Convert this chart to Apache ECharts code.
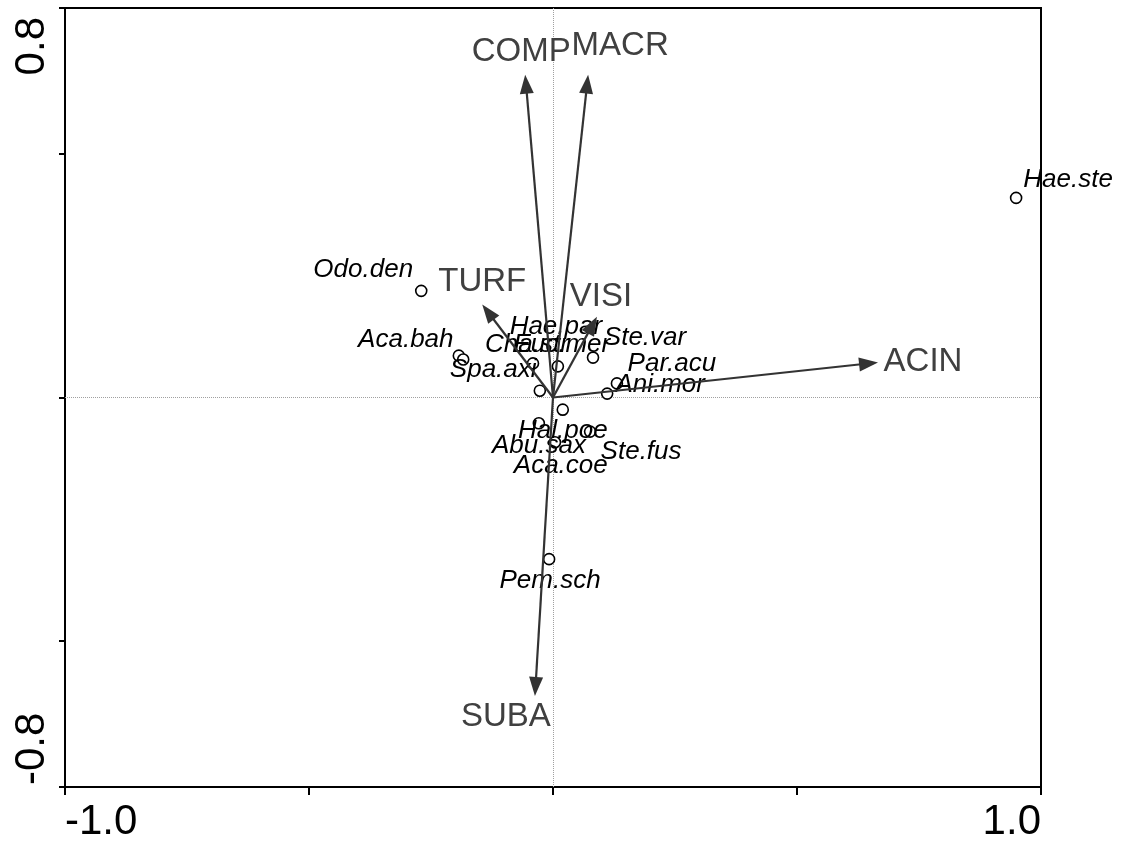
<!DOCTYPE html>
<html>
<head>
<meta charset="utf-8">
<title>CCA biplot</title>
<script src="https://cdn.jsdelivr.net/npm/echarts@6/dist/echarts.min.js"></script>
<style>
  html, body { margin: 0; padding: 0; background: #fff; }
  #chart { width: 1123px; height: 843px; }
</style>
</head>
<body>
<div id="chart"></div>
<script>
// Species scores (axis 1, axis 2)
const speciesNames = ['Hae.ste', 'Odo.den', 'Aca.bah', 'Spa.axi', 'Hae.par', 'Cha.str', 'Euc.mer',
  'Ste.var', 'Par.acu', 'Ani.mor', 'Aca.coe', 'Hal.poe', 'Ste.fus', 'Abu.sax', 'Pem.sch'];
const speciesX = [0.949, -0.270, -0.193, -0.184, 0.010, -0.041, -0.027,
  0.082, 0.131, 0.111, 0.020, -0.029, 0.076, 0.004, -0.008];
const speciesY = [0.410, 0.219, 0.086, 0.078, 0.064, 0.070, 0.014,
  0.082, 0.029, 0.008, -0.025, -0.053, -0.070, -0.092, -0.332];

// Environmental variable biplot scores (arrow tips)
const envNames = ['COMP', 'MACR', 'TURF', 'VISI', 'ACIN', 'SUBA'];
const envX = [-0.057, 0.072, -0.145, 0.090, 0.666, -0.037];
const envY = [0.663, 0.663, 0.191, 0.166, 0.072, -0.613];

// Axis ticks and labelled extremes
const xTicks = [-1.0, -0.5, 0.0, 0.5, 1.0];
const xTickLabels = [-1.0, 1.0];
const yTicks = [-0.8, -0.5, 0.0, 0.5, 0.8];
const yTickLabels = [-0.8, 0.8];

// Label placement (pixel offsets from the mark)
const speciesLabelOffset = {
  'Hae.ste': [52, -18], 'Odo.den': [-58, -21], 'Aca.bah': [-53, -16], 'Spa.axi': [30, 10],
  'Hae.par': [-2, -40], 'Cha.str': [-6, -19], 'Euc.mer': [22, -46], 'Ste.var': [52, -20],
  'Par.acu': [55, -20], 'Ani.mor': [53, -9], 'Aca.coe': [-2, 56], 'Hal.poe': [24, 7],
  'Ste.fus': [51, 20], 'Abu.sax': [-16, 3], 'Pem.sch': [1, 22]
};
const envLabelOffset = {
  COMP: [-4, -23], MACR: [32, -29], TURF: [0, -23], VISI: [4, -20], ACIN: [45, -1], SUBA: [-29, 21]
};

const FONT = '"Liberation Sans", Arial, sans-serif';

const speciesData = speciesNames.map((n, i) => ({ name: n, value: [speciesX[i], speciesY[i]] }));
const envData = envNames.map((n, i) => [envX[i], envY[i]]);

function renderArrow(params, api) {
  const p0 = api.coord([0, 0]);
  const p1 = api.coord([api.value(0), api.value(1)]);
  const name = envNames[params.dataIndex];
  const dx = p1[0] - p0[0], dy = p1[1] - p0[1];
  const len = Math.sqrt(dx * dx + dy * dy);
  const ux = dx / len, uy = dy / len;
  const headLen = 19, headHalf = 7;
  const bx = p1[0] - ux * headLen, by = p1[1] - uy * headLen;
  const nx = -uy, ny = ux;
  const off = envLabelOffset[name] || [0, 0];
  return {
    type: 'group',
    children: [
      {
        type: 'line',
        shape: { x1: p0[0], y1: p0[1], x2: bx + ux * 2, y2: by + uy * 2 },
        style: { stroke: '#333', lineWidth: 2.2 }
      },
      {
        type: 'polygon',
        shape: { points: [[p1[0], p1[1]], [bx + nx * headHalf, by + ny * headHalf], [bx - nx * headHalf, by - ny * headHalf]] },
        style: { fill: '#333' }
      },
      {
        type: 'text',
        z2: 10,
        style: {
          text: name, x: p1[0] + off[0], y: p1[1] + off[1],
          align: 'center', verticalAlign: 'middle',
          font: '33px ' + FONT, fill: '#404040'
        }
      }
    ]
  };
}

const chart = echarts.init(document.getElementById('chart'), null, { renderer: 'canvas' });
chart.setOption({
  animation: false,
  backgroundColor: '#fff',
  grid: { left: 65, right: 82, top: 8, bottom: 55, show: true, borderColor: '#000', borderWidth: 2, backgroundColor: 'transparent' },
  xAxis: {
    type: 'value', min: -1, max: 1,
    axisLine: { show: true, onZero: false, lineStyle: { color: '#000', width: 2 } },
    axisTick: { show: true, customValues: xTicks, length: 8, lineStyle: { color: '#000', width: 2 } },
    axisLabel: {
      customValues: xTickLabels, formatter: v => Number(v).toFixed(1),
      fontSize: 42, color: '#000', fontFamily: FONT, margin: 14,
      alignMinLabel: 'left', alignMaxLabel: 'right'
    },
    splitLine: { show: false }
  },
  yAxis: {
    type: 'value', min: -0.8, max: 0.8,
    axisLine: { show: true, onZero: false, lineStyle: { color: '#000', width: 2 } },
    axisTick: { show: true, customValues: yTicks, length: 6, lineStyle: { color: '#000', width: 2 } },
    axisLabel: {
      customValues: yTickLabels,
      formatter: v => (v > 0 ? '{top|' : '{bot|') + Number(v).toFixed(1) + '}',
      rich: {
        top: { fontSize: 42, color: '#000', fontFamily: FONT, padding: [0, 9, 0, 0] },
        bot: { fontSize: 42, color: '#000', fontFamily: FONT, padding: [0, 0, 0, 2] }
      },
      rotate: 90, fontSize: 42, color: '#000', fontFamily: FONT, margin: 12,
      alignMinLabel: 'left', alignMaxLabel: 'right'
    },
    splitLine: { show: false }
  },
  series: [
    {
      type: 'scatter',
      data: speciesData,
      symbol: 'circle',
      symbolSize: 11,
      z: 3,
      itemStyle: { color: '#fff', borderColor: '#000', borderWidth: 1.6, opacity: 1 },
      label: {
        show: true, position: 'inside', formatter: '{b}',
        fontStyle: 'italic', fontSize: 26, color: '#000', fontFamily: FONT,
        textBorderWidth: 0, opacity: 1,
        align: 'center', verticalAlign: 'middle'
      },
      labelLayout: function (params) {
        const off = speciesLabelOffset[speciesNames[params.dataIndex]] || [0, 0];
        return { dx: off[0], dy: off[1], hideOverlap: false };
      },
      markLine: {
        silent: true, symbol: 'none', animation: false,
        label: { show: false },
        lineStyle: { type: 'dotted', color: '#a0a0a0', width: 1 },
        data: [{ xAxis: 0 }, { yAxis: 0 }],
        z: 1
      }
    },
    {
      type: 'custom',
      data: envData,
      encode: { x: 0, y: 1 },
      renderItem: renderArrow,
      z: 4,
      clip: false
    }
  ]
});
</script>
</body>
</html>
